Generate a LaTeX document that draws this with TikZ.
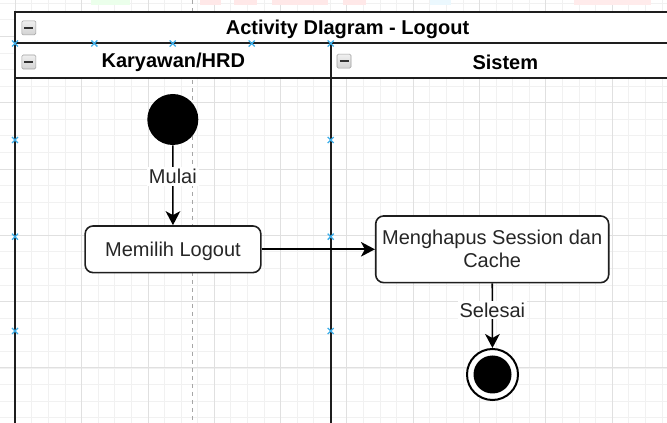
\documentclass[tikz,border=0pt]{standalone}
\usepackage{fontspec}
\setmainfont{Liberation Sans}
\usetikzlibrary{arrows.meta}
\definecolor{gridminor}{HTML}{F1F1F1}
\definecolor{gridmajor}{HTML}{E0E0E0}
\definecolor{lanestroke}{HTML}{1E1E1E}
\definecolor{markblue}{HTML}{3DAEE9}
\definecolor{txtcol}{HTML}{262626}
\begin{document}
\begin{tikzpicture}[x=0.75pt,y=-0.75pt,
  font=\fontsize{15}{17.25}\selectfont,
  lane/.style={draw=lanestroke,line width=1.5pt},
  lanetitle/.style={font=\fontsize{15}{18}\selectfont\bfseries,text=black},
  actbox/.style={draw=lanestroke,line width=1.2pt,rounded corners=6pt,fill=white,align=center,text=txtcol,inner sep=0pt},
  startnode/.style={circle,fill=black,inner sep=0pt,minimum size=38.25pt},
  endnode/.style={circle,draw=black,line width=1.5pt,fill=white,inner sep=0pt,minimum size=38.25pt,
    path picture={\fill[black] (path picture bounding box.center) circle (14.25pt);}},
  flow/.style={-{Stealth[length=10.5pt,width=11pt,inset=3pt]},line width=1.2pt,draw=black},
  flowlabel/.style={fill=white,inner sep=1.5pt,text=txtcol},
  marker/.style={draw=markblue,line width=1pt}]
\useasboundingbox (0,0) rectangle (667,423);
\clip (0,0) rectangle (667,423);

% background grid
\foreach \i in {0,...,41}
  \draw[gridminor,line width=0.75pt] ({-1.2+16.58*\i},0) -- ({-1.2+16.58*\i},423);
\foreach \j in {0,...,25}
  \draw[gridminor,line width=0.75pt] (0,{3.3+16.58*\j}) -- (667,{3.3+16.58*\j});
\foreach \m in {0,...,9}
  \draw[gridmajor,line width=0.75pt] ({15.4+66.3*\m},0) -- ({15.4+66.3*\m},423);
\foreach \m in {0,...,5}
  \draw[gridmajor,line width=0.75pt] (0,{36.5+66.3*\m}) -- (667,{36.5+66.3*\m});

% faint bits of colour along the top edge
\foreach \a/\b/\c in {91/130/green!8,200/221/red!9,234/257/red!9,272/328/red!9,343/366/red!9,430/451/cyan!8,574/651/red!8}
  \fill[\c] (\a,0) rectangle (\b,5);

% dashed guide in the first lane
\draw[gray!70,dashed,dash pattern=on 3pt off 3pt,line width=0.75pt] (192.3,0) -- (192.3,423);

% pool and lanes
\fill[white] (15,11.7) rectangle (680,77.7);
\draw[lane] (15,440) -- (15,11.7) -- (680,11.7) -- (680,440);
\draw[lane] (15,43.5) -- (680,43.5);
\draw[lane] (15,77.7) -- (680,77.7);
\draw[lane] (330.7,43.5) -- (330.7,440);

\node[lanetitle] (pooltitle) at (347.5,29) {Activity DIagram - Logout};
\node[lanetitle] (lanehrd) at (173.3,62) {Karyawan/HRD};
\node[lanetitle] (lanesys) at (505.3,62) {Sistem};

% collapse buttons
\foreach \cx/\cy in {28.8/27.8,28.8/62,344/61.2}{
  \draw[draw=gray!75,top color=gray!12,bottom color=gray!35,rounded corners=1pt]
    ({\cx-7},{\cy-7}) rectangle ({\cx+7},{\cy+7});
  \draw[line width=1.6pt,gray!40!black] ({\cx-4.5},\cy) -- ({\cx+4.5},\cy);
}

% selection markers
\foreach \mx in {15,94.3,172.7,251.7,330.7}
  \draw[marker] (\mx,43.5) +(-3,-3) -- +(3,3) +(-3,3) -- +(3,-3);
\foreach \mx in {15,330.7}
  \foreach \my in {140,236.7,331}
    \draw[marker] (\mx,\my) +(-3,-3) -- +(3,3) +(-3,3) -- +(3,-3);

% activity flow
\node[startnode] (start) at (172.8,119.5) {};
\node[actbox,minimum width=131.8pt,minimum height=35pt,text depth=0pt] (pilih) at (173,249.3) {Memilih Logout};
\node[actbox,minimum width=174.75pt,minimum height=50pt] (hapus) at (492.2,249.3) {Menghapus Session dan\\Cache};
\node[endnode] (end) at (492.5,374.5) {};

\draw[flow] (start) -- node[flowlabel,pos=0.39]{Mulai} (pilih);
\draw[flow] (pilih) -- (hapus);
\draw[flow] (hapus) -- node[flowlabel,pos=0.41]{Selesai} (end);
\end{tikzpicture}
\end{document}
